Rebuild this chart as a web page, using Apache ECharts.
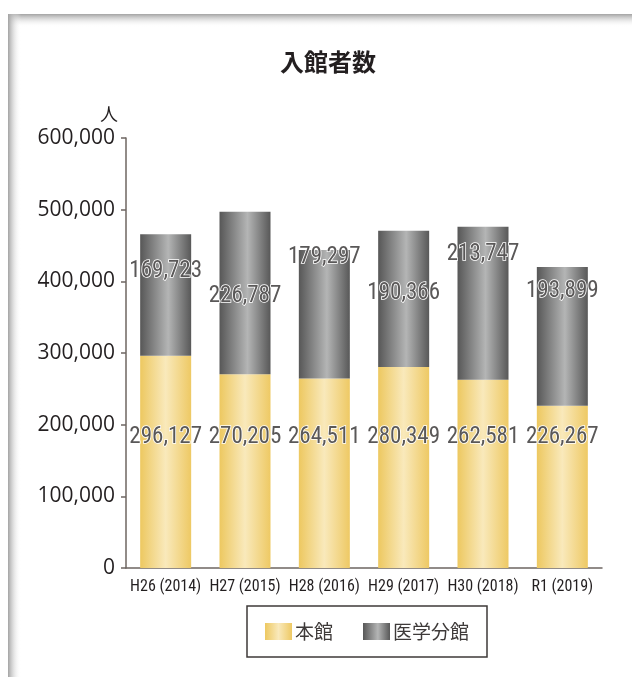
<!DOCTYPE html>
<html>
<head>
<meta charset="utf-8">
<title>入館者数</title>
<script src="https://cdn.jsdelivr.net/npm/echarts@6/dist/echarts.min.js"></script>
<style>
  html, body { margin: 0; padding: 0; background: #fff; }
  #chart { width: 632px; height: 677px; }
</style>
</head>
<body>
<div id="chart"></div>
<script>
// Annual visitor counts, main library and medical branch library
const years = ['H26 (2014)', 'H27 (2015)', 'H28 (2016)', 'H29 (2017)', 'H30 (2018)', 'R1 (2019)'];
const mainLibrary = [296127, 270205, 264511, 280349, 262581, 226267];
const medicalBranch = [169723, 226787, 179297, 190366, 213747, 193899];
const yTicks = [0, 100000, 200000, 300000, 400000, 500000, 600000];
const seriesNames = ['本館', '医学分館'];

// Vertical offset (px, from each bar's top) of the branch-library value labels
const branchLabelDrop = [37, 84, 7, 63, 28, 24];

const fmt = v => String(v).replace(/\B(?=(\d{3})+(?!\d))/g, ',');

const narrowFont = '"Liberation Sans Narrow", "Roboto Condensed", Roboto, sans-serif';

const goldFill = {
  type: 'linear', x: 0, y: 0, x2: 1, y2: 0,
  colorStops: [
    { offset: 0, color: '#edc860' },
    { offset: 0.5, color: '#f9e9bb' },
    { offset: 1, color: '#eec964' }
  ]
};
const greyFill = {
  type: 'linear', x: 0, y: 0, x2: 1, y2: 0,
  colorStops: [
    { offset: 0, color: '#575757' },
    { offset: 0.55, color: '#b4b5b5' },
    { offset: 1, color: '#585858' }
  ]
};

const valueLabel = {
  show: true,
  fontFamily: narrowFont,
  fontSize: 23,
  color: '#5a5858',
  textBorderColor: '#ffffff',
  textBorderWidth: 1.6,
  formatter: p => fmt(p.value)
};

const axisColor = '#6e6661';
const inkColor = '#231f20';

const chart = echarts.init(document.getElementById('chart'), null, { renderer: 'canvas' });

chart.setOption({
  backgroundColor: '#ffffff',
  animation: false,
  title: {
    text: '入館者数',
    left: 323,
    textAlign: 'center',
    top: 45,
    textStyle: {
      fontFamily: '"Noto Sans CJK JP", sans-serif',
      fontWeight: 'bold',
      fontSize: 24,
      color: inkColor
    }
  },
  graphic: [
    {
      type: 'rect', silent: true, z: -1,
      shape: { x: 8, y: 14, width: 624, height: 13 },
      style: {
        fill: {
          type: 'linear', x: 0, y: 0, x2: 0, y2: 1,
          colorStops: [
            { offset: 0, color: '#a3a3a3' },
            { offset: 1, color: 'rgba(255,255,255,0)' }
          ]
        }
      }
    },
    {
      type: 'rect', silent: true, z: -1,
      shape: { x: 8, y: 14, width: 13, height: 663 },
      style: {
        fill: {
          type: 'linear', x: 0, y: 0, x2: 1, y2: 0,
          colorStops: [
            { offset: 0, color: '#a3a3a3' },
            { offset: 1, color: 'rgba(255,255,255,0)' }
          ]
        }
      }
    }
  ],
  legend: {
    data: seriesNames,
    left: 247,
    top: 606,
    width: 240,
    icon: 'rect',
    itemWidth: 27,
    itemHeight: 17,
    itemGap: 30,
    padding: [16, 18, 16, 18],
    borderColor: '#3e3a39',
    borderWidth: 1.5,
    textStyle: {
      fontFamily: '"Noto Sans CJK JP", sans-serif',
      fontSize: 19,
      color: '#3e3a39',
      padding: [0, 0, 0, -2]
    }
  },
  grid: { left: 126, right: 30, top: 138, bottom: 109 },
  xAxis: {
    type: 'category',
    data: years,
    boundaryGap: true,
    axisLine: { lineStyle: { color: axisColor, width: 1.5 } },
    axisTick: { inside: true, length: 10, lineStyle: { color: axisColor, width: 1.5 } },
    axisLabel: {
      interval: 0,
      margin: 11,
      fontFamily: narrowFont,
      fontSize: 16,
      color: inkColor
    }
  },
  yAxis: {
    type: 'value',
    min: yTicks[0],
    max: yTicks[yTicks.length - 1],
    interval: yTicks[1] - yTicks[0],
    name: '人',
    nameLocation: 'end',
    nameGap: 15,
    nameTextStyle: {
      fontFamily: '"Noto Sans CJK JP", sans-serif',
      fontSize: 18,
      color: inkColor,
      align: 'right',
      padding: [0, 8, 0, 0]
    },
    axisLine: { show: true, lineStyle: { color: axisColor, width: 1.5 } },
    axisTick: { show: true, length: 5, lineStyle: { color: axisColor, width: 1.5 } },
    splitLine: { show: false },
    axisLabel: {
      margin: 11,
      fontFamily: '"Open Sans", sans-serif',
      fontSize: 21,
      color: inkColor,
      formatter: v => fmt(v)
    }
  },
  series: [
    {
      name: seriesNames[0],
      type: 'bar',
      stack: 'visitors',
      barWidth: 51,
      data: mainLibrary,
      itemStyle: { color: goldFill },
      label: Object.assign({}, valueLabel, {
        position: 'insideBottom',
        distance: 119
      })
    },
    {
      name: seriesNames[1],
      type: 'bar',
      stack: 'visitors',
      barWidth: 51,
      itemStyle: { color: greyFill },
      data: medicalBranch.map((v, i) => ({
        value: v,
        label: {
          position: ['50%', branchLabelDrop[i]],
          align: 'center',
          verticalAlign: 'middle'
        }
      })),
      label: valueLabel
    }
  ]
});
</script>
</body>
</html>
